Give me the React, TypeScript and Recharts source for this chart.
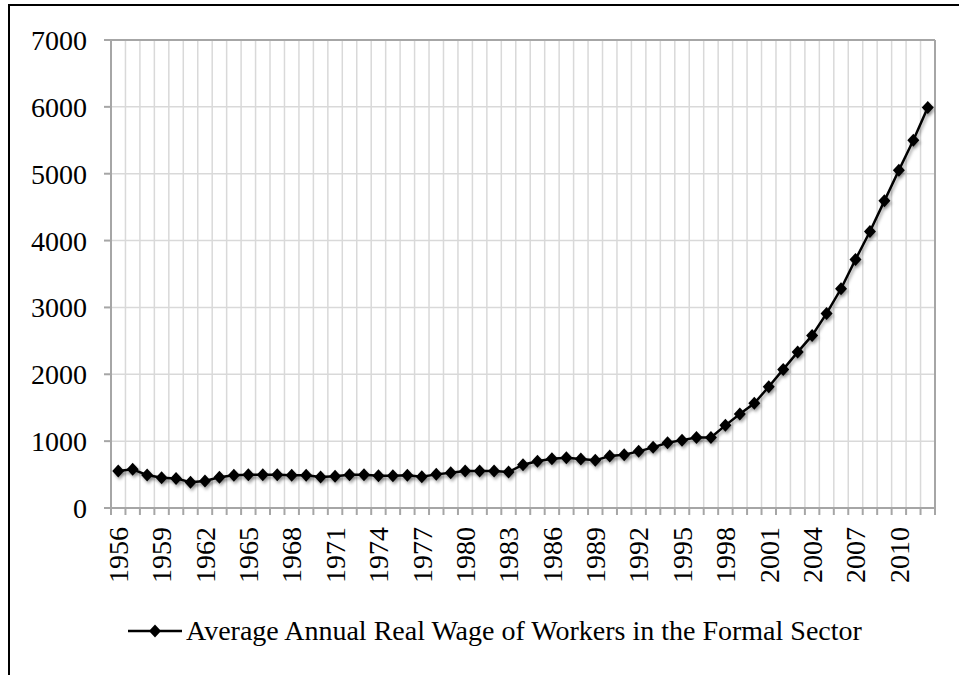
import {
  LineChart,
  Line,
  XAxis,
  YAxis,
  CartesianGrid,
  Legend,
  ReferenceLine,
} from "recharts";

const years = [
  1956, 1957, 1958, 1959, 1960, 1961, 1962, 1963, 1964, 1965, 1966, 1967,
  1968, 1969, 1970, 1971, 1972, 1973, 1974, 1975, 1976, 1977, 1978, 1979,
  1980, 1981, 1982, 1983, 1984, 1985, 1986, 1987, 1988, 1989, 1990, 1991,
  1992, 1993, 1994, 1995, 1996, 1997, 1998, 1999, 2000, 2001, 2002, 2003,
  2004, 2005, 2006, 2007, 2008, 2009, 2010, 2011, 2012,
];

const wages = [
  553, 578, 493, 453, 443, 384, 404, 459, 489, 498, 498, 498, 489, 489, 464,
  474, 498, 498, 484, 483, 488, 468, 503, 528, 553, 553, 553, 538, 647, 698,
  737, 752, 732, 713, 777, 797, 847, 907, 976, 1015, 1056, 1056, 1236, 1405,
  1565, 1814, 2073, 2332, 2581, 2910, 3279, 3717, 4136, 4594, 5052, 5500, 5989,
];

const yearLabels = [
  1956, 1959, 1962, 1965, 1968, 1971, 1974, 1977, 1980, 1983, 1986, 1989,
  1992, 1995, 1998, 2001, 2004, 2007, 2010,
];

const yTicks = [0, 1000, 2000, 3000, 4000, 5000, 6000, 7000];

const seriesName = "Average Annual Real Wage of Workers in the Formal Sector";

const data = years.map((year, i) => ({ year, wage: wages[i] }));
// category boundaries, so grid lines and tick marks sit between the years
const boundaries = [...years.map((y) => y - 0.5), years[years.length - 1] + 0.5];

const FONT = "'Liberation Serif', 'Times New Roman', serif";
const FS = 28;
const AXIS = "#a6a6a6";
const GRID = "#d9d9d9";

const Diamond = ({ cx, cy }: any) => {
  if (cx == null || cy == null) return null;
  return (
    <polygon
      points={`${cx},${cy - 6.5} ${cx + 6},${cy} ${cx},${cy + 6.5} ${cx - 6},${cy}`}
      fill="#000"
      filter="url(#xlShadow)"
    />
  );
};

const NoTick = () => <g />;

const YearTick = ({ x, y, payload }: any) => (
  <text
    x={x}
    y={y}
    transform={`rotate(-90 ${x} ${y})`}
    textAnchor="end"
    dy="0.35em"
    fontSize={FS}
    fontFamily={FONT}
    fill="#000"
  >
    {payload.value}
  </text>
);

const LegendContent = () => (
  <div style={{ display: "flex", alignItems: "center", marginLeft: 128 }}>
    <svg width={54} height={20}>
      <line x1={0} y1={10} x2={54} y2={10} stroke="#000" strokeWidth={2.5} />
      <polygon points="27,3.5 33,10 27,16.5 21,10" fill="#000" />
    </svg>
    <span
      style={{
        fontFamily: FONT,
        fontSize: FS,
        color: "#000",
        marginLeft: 4,
        whiteSpace: "nowrap",
      }}
    >
      {seriesName}
    </span>
  </div>
);

export default function App() {
  return (
    <div
      style={{
        position: "absolute",
        top: 0,
        left: 0,
        width: 959,
        height: 675,
        overflow: "hidden",
        background: "#fff",
      }}
    >
      <svg width={0} height={0} style={{ position: "absolute" }}>
        <defs>
          <filter id="xlShadow" x="-50%" y="-50%" width="200%" height="200%">
            <feDropShadow dx="1.5" dy="2.5" stdDeviation="1.4" floodColor="#000" floodOpacity="0.35" />
          </filter>
        </defs>
      </svg>
      <div
        style={{
          position: "absolute",
          top: 4,
          left: 8,
          width: 980,
          height: 700,
          borderTop: "2px solid #000",
          borderLeft: "2px solid #000",
        }}
      />
      <div style={{ position: "absolute", top: 0, left: 0 }}>
        <LineChart
          width={959}
          height={675}
          data={data}
          margin={{ top: 40, right: 24, left: 11, bottom: 78 }}
        >
          <CartesianGrid
            stroke={GRID}
            strokeWidth={1.5}
            xAxisId="grid"
            vertical
            horizontal
          />
          <XAxis
            xAxisId="grid"
            type="number"
            dataKey="year"
            domain={[boundaries[0], boundaries[boundaries.length - 1]]}
            ticks={boundaries}
            tick={<NoTick />}
            tickSize={7}
            height={19}
            stroke={AXIS}
            strokeWidth={2}
            interval={0}
            allowDataOverflow
          />
          <XAxis
            xAxisId="labels"
            type="number"
            dataKey="year"
            domain={[boundaries[0], boundaries[boundaries.length - 1]]}
            ticks={yearLabels}
            tick={<YearTick />}
            tickSize={0}
            tickMargin={0}
            tickLine={false}
            axisLine={false}
            height={70}
            interval={0}
            allowDataOverflow
          />
          <YAxis
            domain={[0, 7000]}
            ticks={yTicks}
            width={100}
            tickSize={7}
            tickMargin={17}
            stroke={AXIS}
            strokeWidth={2}
            tick={{ fontSize: FS, fontFamily: FONT, fill: "#000" }}
            interval={0}
          />
          <ReferenceLine xAxisId="grid" x={boundaries[boundaries.length - 1]} stroke={AXIS} strokeWidth={2} />
          <ReferenceLine xAxisId="grid" y={7000} stroke={AXIS} strokeWidth={2} />
          <Legend
            layout="vertical"
            align="center"
            verticalAlign="middle"
            wrapperStyle={{ top: 615, left: 0, width: 959 }}
            content={<LegendContent />}
          />
          <Line
            xAxisId="grid"
            type="linear"
            dataKey="wage"
            name={seriesName}
            stroke="#000"
            strokeWidth={2.5}
            dot={<Diamond />}
            activeDot={false}
            filter="url(#xlShadow)"
            isAnimationActive={false}
          />
        </LineChart>
      </div>
    </div>
  );
}
